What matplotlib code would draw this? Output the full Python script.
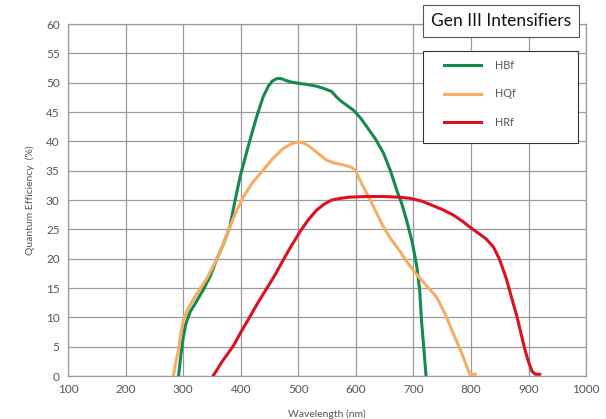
import matplotlib.pyplot as plt
from matplotlib.lines import Line2D
from matplotlib.patches import Rectangle

plt.rcParams['font.family'] = ['Lato', 'DejaVu Sans']

# HBf curve (wavelength nm, QE %)
hbf_x = [292, 296, 300, 305, 312, 320, 335, 347, 358, 370, 381, 390, 399, 408, 416, 428, 439, 448,
         455, 463, 470, 478, 488, 500, 515, 532, 545, 558, 566, 575, 585, 596, 608, 619, 634,
         648, 660, 671, 680, 688, 698, 706, 711, 714, 718, 722]
hbf_y = [0, 3.5, 6.5, 9.0, 10.9, 12.2, 14.7, 17.0, 19.8, 22.5, 25.4, 29.8, 34, 37.3, 40.2, 44.3, 47.6, 49.4,
         50.3, 50.7, 50.7, 50.4, 50.1, 49.9, 49.7, 49.4, 49.0, 48.5, 47.6, 46.8, 46.1, 45.3, 44.0, 42.5, 40.4,
         38, 35.0, 31.7, 29.3, 26.6, 22.8, 18.6, 14.5, 9.5, 4.8, 0]

# HQf curve
hqf_x = [283, 287, 292, 296, 300, 308, 318, 329, 341, 358, 370, 381, 393, 405, 420, 439, 456,
         474, 488, 500, 510, 520, 535, 549, 563, 578, 592, 599, 610, 625, 637, 648, 662, 677,
         690, 703, 720, 740, 755, 769, 784, 798, 808]
hqf_y = [0, 2.2, 4.6, 7.2, 9.5, 11.4, 13.1, 14.8, 16.6, 19.8, 22.6, 25.4, 28.2, 30.6, 32.9, 35.1, 37.1,
         38.8, 39.6, 39.9, 39.7, 39.1, 37.9, 36.8, 36.3, 36, 35.6, 35.1, 32.8, 30, 27.6, 25.4, 23.2, 21.2,
         19.3, 17.6, 15.7, 13.5, 10.6, 7.3, 3.9, 0.3, 0.3]

# HRf curve
hrf_x = [352, 368, 387, 401, 416, 430, 445, 460, 474, 488, 503, 518, 532, 545, 558, 574, 590,
         620, 648, 672, 694, 715, 735, 750, 770, 785, 798, 812, 826, 839, 850, 862, 871, 880,
         887, 894, 900, 906, 912, 920]
hrf_y = [0, 2.5, 5.1, 7.6, 10.1, 12.5, 14.9, 17.3, 19.8, 22.2, 24.6, 26.7, 28.3, 29.3, 30, 30.3, 30.5,
         30.6, 30.6, 30.5, 30.3, 29.8, 29, 28.4, 27.4, 26.4, 25.4, 24.4, 23.4, 22, 19.8, 16.4, 13.2, 10.1,
         7.2, 4.4, 2.4, 0.8, 0.3, 0.3]

series = [('HBf', hbf_x, hbf_y, '#158a4c'),
          ('HQf', hqf_x, hqf_y, '#f5ad63'),
          ('HRf', hrf_x, hrf_y, '#dc1020')]

W, H = 606, 419
fig = plt.figure(figsize=(W / 100, H / 100), dpi=100)
ax = fig.add_axes([0.1122, 0.1026, 0.855, 0.840])

for name, xs, ys, c in series:
    ax.plot(xs, ys, color=c, linewidth=2.2, solid_joinstyle='round', solid_capstyle='round',
            label=name, zorder=3)

ax.set_xlim(100, 1000)
ax.set_ylim(0, 60)
ax.set_xticks(range(100, 1001, 100))
ax.set_yticks(range(0, 61, 5))
ax.grid(color='#9a9a9a', linewidth=0.9)
ax.set_axisbelow(True)
for s in ax.spines.values():
    s.set_color('#9a9a9a')
    s.set_linewidth(0.9)
ax.tick_params(length=0, labelsize=8.5, labelcolor='#555555', pad=6)

ax.set_xlabel('Wavelength (nm)', fontsize=7.5, color='#555555', labelpad=10)
ax.set_ylabel('Quantum Efficiency  (%)', fontsize=7.5, color='#555555', labelpad=8)

# legend box drawn separately so the entries can sit where the reference has them
fig.patches.append(Rectangle((423 / W, 1 - 143 / H), 155 / W, 92 / H, transform=fig.transFigure,
                             facecolor='white', edgecolor='#333333', linewidth=0.8, zorder=5))
handles = [Line2D([0], [0], color=c, linewidth=2.2) for _, _, _, c in series]
leg = fig.legend(handles, [n for n, _, _, _ in series], loc='upper left',
                 bbox_to_anchor=(444 / W, 1 - 60 / H), frameon=False,
                 fontsize=7.8, labelcolor='#555555', handlelength=3.4, handletextpad=1.3,
                 borderpad=0, labelspacing=1.6, borderaxespad=0)
leg.set_zorder(6)

fig.text(501 / W, 1 - 21 / H, 'Gen III Intensifiers', fontsize=12.5, color='#111111',
         ha='center', va='center', zorder=6,
         bbox=dict(boxstyle='square,pad=0.45', facecolor='white', edgecolor='#555555', linewidth=0.8))

fig.savefig('out.png', dpi=100)
